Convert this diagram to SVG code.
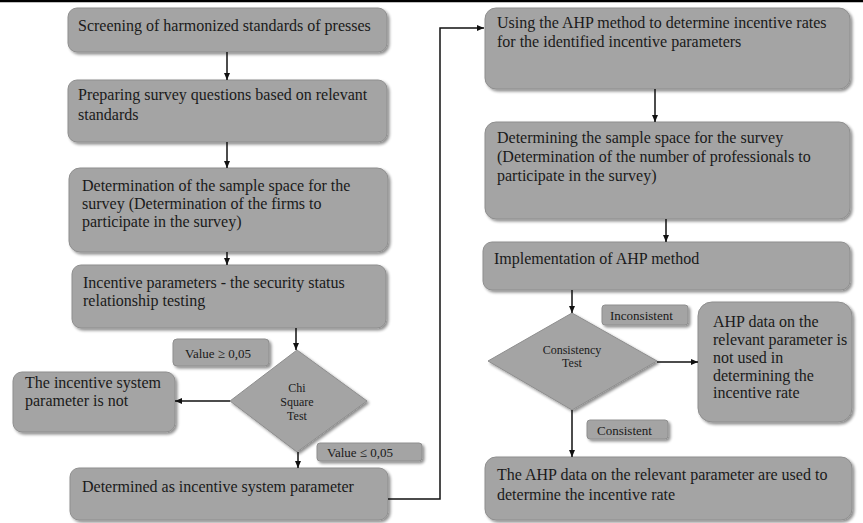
<svg xmlns="http://www.w3.org/2000/svg" width="863" height="523" viewBox="0 0 863 523">
<defs>
<filter id="sh" x="-10%" y="-10%" width="130%" height="140%">
<feGaussianBlur in="SourceAlpha" stdDeviation="1.5"/>
<feOffset dx="2" dy="2" result="b"/>
<feComponentTransfer><feFuncA type="linear" slope="0.45"/></feComponentTransfer>
<feMerge><feMergeNode/><feMergeNode in="SourceGraphic"/></feMerge>
</filter>
<marker id="ah" markerWidth="8" markerHeight="8" refX="7" refY="4" orient="auto" markerUnits="userSpaceOnUse">
<path d="M0,1 L7,4 L0,7 Z" fill="#111"/>
</marker>
</defs>
<style>
.box{fill:#a4a4a4;stroke:#8e8e8e;stroke-width:1;filter:url(#sh)}
.t{font-family:"Liberation Serif","Times New Roman",serif;font-size:16px;fill:#1a1a1a}
.s{font-family:"Liberation Serif","Times New Roman",serif;font-size:13px;fill:#1a1a1a}
.d{font-family:"Liberation Serif","Times New Roman",serif;font-size:12px;fill:#1a1a1a;text-anchor:middle}
.c{fill:none;stroke:#111;stroke-width:1.5;marker-end:url(#ah)}
</style>
<rect width="863" height="523" fill="#fff"/>
<line x1="0" y1="1" x2="863" y2="1" stroke="#000" stroke-width="2.5"/>

<g id="n1"><rect class="box" x="68" y="8" width="319" height="44" rx="9"/>
<text class="t" x="78" y="31">Screening of harmonized standards of presses</text></g>

<g id="n2"><rect class="box" x="68" y="80" width="319" height="62" rx="9"/>
<text class="t" x="78" y="100">Preparing survey questions based on relevant</text>
<text class="t" x="78" y="120">standards</text></g>

<g id="n3"><rect class="box" x="69" y="168" width="319" height="84" rx="11"/>
<text class="t" x="82" y="191">Determination  of the sample space for the</text>
<text class="t" x="82" y="209">survey (Determination  of the firms to</text>
<text class="t" x="82" y="227">participate in the survey)</text></g>

<g id="n4"><rect class="box" x="72" y="265" width="314" height="63" rx="9"/>
<text class="t" x="83" y="288">Incentive parameters -  the security status</text>
<text class="t" x="83" y="306">relationship  testing</text></g>

<g id="l1"><rect class="box" x="173" y="339" width="96" height="27" rx="4"/>
<text class="s" x="185" y="358">Value  ≥ 0,05</text></g>

<g id="chi"><polygon class="box" points="297,350 367,401 297,452 230,401"/>
<text class="d" x="297" y="392">Chi</text>
<text class="d" x="297" y="406">Square</text>
<text class="d" x="297" y="420">Test</text></g>

<g id="n5"><rect class="box" x="13" y="372" width="162" height="60" rx="9"/>
<text class="t" x="25" y="388">The incentive  system</text>
<text class="t" x="25" y="406">parameter is not</text></g>

<g id="l2"><rect class="box" x="317" y="443" width="105" height="18" rx="3"/>
<text class="s" x="327" y="457">Value  ≤ 0,05</text></g>

<g id="n6"><rect class="box" x="70" y="468" width="318" height="52" rx="9"/>
<text class="t" x="82" y="492">Determined  as incentive  system parameter</text></g>

<g id="r1"><rect class="box" x="485" y="8" width="365" height="81" rx="11"/>
<text class="t" x="497" y="28">Using the AHP method to determine  incentive  rates</text>
<text class="t" x="497" y="47">for the identified  incentive  parameters</text></g>

<g id="r2"><rect class="box" x="485" y="122" width="365" height="97" rx="11"/>
<text class="t" x="497" y="143">Determining  the sample space for the survey</text>
<text class="t" x="497" y="162">(Determination  of the number of  professionals to</text>
<text class="t" x="497" y="181">participate in the survey)</text></g>

<g id="r3"><rect class="box" x="483" y="242" width="367" height="48" rx="9"/>
<text class="t" x="494" y="264">Implementation  of AHP method</text></g>

<g id="l3"><rect class="box" x="602" y="305" width="86" height="20" rx="3"/>
<text class="s" x="610" y="320">Inconsistent</text></g>

<g id="cons"><polygon class="box" points="572,313 657,361 572,410 488,361"/>
<text class="d" x="572" y="354">Consistency</text>
<text class="d" x="572" y="367">Test</text></g>

<g id="r4"><rect class="box" x="698" y="302" width="154" height="120" rx="14"/>
<text class="t" x="713" y="327">AHP data on the</text>
<text class="t" x="713" y="345">relevant  parameter is</text>
<text class="t" x="713" y="363">not used in</text>
<text class="t" x="713" y="381">determining  the</text>
<text class="t" x="713" y="398">incentive  rate</text></g>

<g id="l4"><rect class="box" x="587" y="420" width="81" height="19" rx="3"/>
<text class="s" x="597" y="435">Consistent</text></g>

<g id="r5"><rect class="box" x="485" y="457" width="367" height="63" rx="11"/>
<text class="t" x="497" y="480">The AHP data on the relevant  parameter are used to</text>
<text class="t" x="497" y="500">determine  the incentive  rate</text></g>

<g id="connectors">
<path class="c" d="M227,52 V80"/>
<path class="c" d="M227,142 V168"/>
<path class="c" d="M227,252 V265"/>
<path class="c" d="M296,328 V350"/>
<path class="c" d="M230,401 H175"/>
<path class="c" d="M298,452 V468"/>
<path class="c" d="M388,499 H440 V28 H484"/>
<path class="c" d="M655,89 V122"/>
<path class="c" d="M666,219 V242"/>
<path class="c" d="M572,290 V313"/>
<path class="c" d="M657,362 H698"/>
<path class="c" d="M572,410 V457"/>
</g>
</svg>
